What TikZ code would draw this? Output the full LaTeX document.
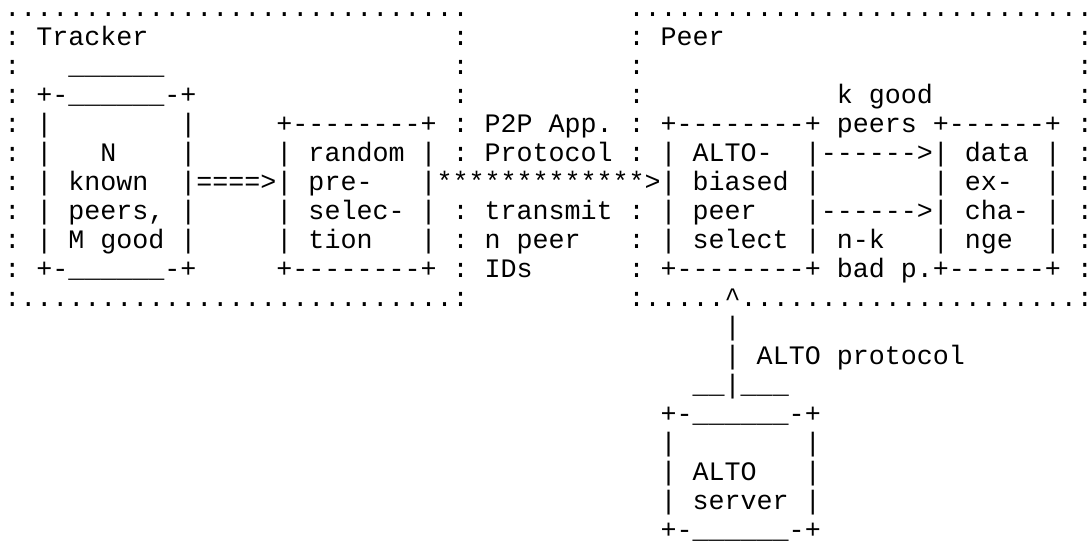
\documentclass[tikz,border=0pt]{standalone}
\usepackage{fontspec}
\setmonofont{Liberation Mono}
\begin{document}
\begin{tikzpicture}[x=8.005pt,y=-14.5pt]
  \tikzstyle{txt}=[anchor=base west,inner sep=0pt,outer sep=0pt,font=\ttfamily\fontsize{13.34}{14.5}\selectfont]
  \useasboundingbox (-0.27,-0.586) rectangle (67.88,18.207);
  % tracker frame
  \node[txt] (tracker-top) at (0,0) {.............................};
  \foreach \r in {1,...,9} \node[txt] (tracker-l\r) at (0,\r) {:};
  \foreach \r in {1,...,5,7,8,9} \node[txt] (tracker-r\r) at (28,\r) {:};
  \node[txt] (tracker-bot) at (0,10) {:...........................:};
  \node[txt] (tracker) at (2,1) {Tracker};
  % known peers
  \node[txt] (known-cap) at (4,2) {\textunderscore\textunderscore\textunderscore\textunderscore\textunderscore\textunderscore};
  \node[txt] (known-top) at (2,3) {+-\textunderscore\textunderscore\textunderscore\textunderscore\textunderscore\textunderscore-+};
  \foreach \r in {4,...,8} {
    \node[txt] (known-l\r) at (2,\r) {|};
    \node[txt] (known-r\r) at (11,\r) {|};
  }
  \node[txt] (known-bot) at (2,9) {+-\textunderscore\textunderscore\textunderscore\textunderscore\textunderscore\textunderscore-+};
  \node[txt] (known1) at (6,5) {N};
  \node[txt] (known2) at (4,6) {known};
  \node[txt] (known3) at (4,7) {peers,};
  \node[txt] (known4) at (4,8) {M good};
  \node[txt] (pass) at (12,6) {====>};
  % pre-selection
  \node[txt] (presel-top) at (17,4) {+--------+};
  \foreach \r in {5,...,8} {
    \node[txt] (presel-l\r) at (17,\r) {|};
    \node[txt] (presel-r\r) at (26,\r) {|};
  }
  \node[txt] (presel-bot) at (17,9) {+--------+};
  \node[txt] (presel1) at (19,5) {random};
  \node[txt] (presel2) at (19,6) {pre-};
  \node[txt] (presel3) at (19,7) {selec-};
  \node[txt] (presel4) at (19,8) {tion};
  % p2p protocol
  \node[txt] (p2p) at (27,6) {*************>};
  \node[txt] (p2p1) at (30,4) {P2P App.};
  \node[txt] (p2p2) at (30,5) {Protocol};
  \node[txt] (p2p3) at (30,7) {transmit};
  \node[txt] (p2p4) at (30,8) {n peer};
  \node[txt] (p2p5) at (30,9) {IDs};
  % peer frame
  \node[txt] (peer-top) at (39,0) {.............................};
  \foreach \r in {1,...,5,7,8,9} \node[txt] (peer-l\r) at (39,\r) {:};
  \foreach \r in {1,...,9} \node[txt] (peer-r\r) at (67,\r) {:};
  \node[txt] (peer-bot1) at (39,10) {:.....};
  \node[txt] (peer-bot2) at (46,10) {.....................:};
  \node[txt] (peer) at (41,1) {Peer};
  % alto-biased selection
  \node[txt] (select-top) at (41,4) {+--------+};
  \foreach \r in {5,...,8} {
    \node[txt] (select-l\r) at (41,\r) {|};
    \node[txt] (select-r\r) at (50,\r) {|};
  }
  \node[txt] (select-bot) at (41,9) {+--------+};
  \node[txt] (select1) at (43,5) {ALTO-};
  \node[txt] (select2) at (43,6) {biased};
  \node[txt] (select3) at (43,7) {peer};
  \node[txt] (select4) at (43,8) {select};
  % data exchange
  \node[txt] (data-top) at (58,4) {+------+};
  \foreach \r in {5,...,8} {
    \node[txt] (data-l\r) at (58,\r) {|};
    \node[txt] (data-r\r) at (65,\r) {|};
  }
  \node[txt] (data-bot) at (58,9) {+------+};
  \node[txt] (data1) at (60,5) {data};
  \node[txt] (data2) at (60,6) {ex-};
  \node[txt] (data3) at (60,7) {cha-};
  \node[txt] (data4) at (60,8) {nge};
  % good and bad peers
  \node[txt] (good) at (51,5) {------>};
  \node[txt] (bad) at (51,7) {------>};
  \node[txt] (good1) at (52,3) {k good};
  \node[txt] (good2) at (52,4) {peers};
  \node[txt] (bad1) at (52,8) {n-k};
  \node[txt] (bad2) at (52,9) {bad p.};
  % alto protocol
  \node[txt] (alto-tip) at (45,10) {\textasciicircum};
  \foreach \r in {11,12,13} \node[txt] (alto-line\r) at (45,\r) {|};
  \node[txt] (alto) at (47,12) {ALTO protocol};
  % alto server
  \node[txt] (server-cap1) at (43,13) {\textunderscore\textunderscore};
  \node[txt] (server-cap2) at (46,13) {\textunderscore\textunderscore\textunderscore};
  \node[txt] (server-top) at (41,14) {+-\textunderscore\textunderscore\textunderscore\textunderscore\textunderscore\textunderscore-+};
  \foreach \r in {15,16,17} {
    \node[txt] (server-l\r) at (41,\r) {|};
    \node[txt] (server-r\r) at (50,\r) {|};
  }
  \node[txt] (server-bot) at (41,18) {+-\textunderscore\textunderscore\textunderscore\textunderscore\textunderscore\textunderscore-+};
  \node[txt] (server1) at (43,16) {ALTO};
  \node[txt] (server2) at (43,17) {server};
\end{tikzpicture}
\end{document}
